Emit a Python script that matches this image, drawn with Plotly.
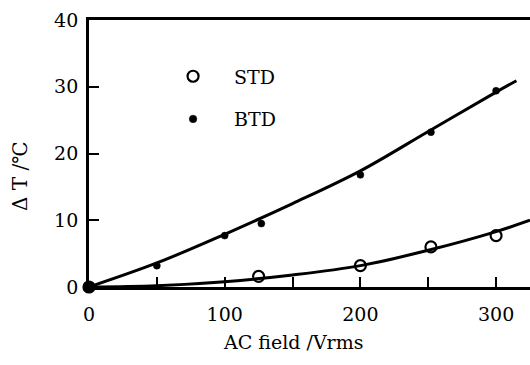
import plotly.graph_objects as go

# Measured data
std_x = [0, 125, 200, 252, 300]
std_y = [0, 1.6, 3.2, 6.0, 7.7]
btd_x = [0, 50, 100, 127, 200, 252, 300]
btd_y = [0, 3.2, 7.7, 9.5, 16.8, 23.2, 29.4]

# Fitted curves
std_fit_x = [0, 50, 100, 150, 200, 250, 300, 325]
std_fit_y = [0, 0.2, 0.8, 1.8, 3.2, 5.5, 8.3, 10.0]
btd_fit_x = [0, 50, 100, 150, 200, 250, 300, 315]
btd_fit_y = [0, 3.6, 7.9, 12.5, 17.4, 23.3, 29.2, 30.9]

x_tickvals = [0, 50, 100, 150, 200, 250, 300]
x_ticktext = ["0", "", "100", "", "200", "", "300"]
y_tickvals = [0, 10, 20, 30, 40]

FONT = "DejaVu Serif"

# marker styling (origin point drawn as a large solid dot, as in the original)
btd_sizes = [11, 7, 7, 7, 7, 7, 7]

fig = go.Figure()
fig.add_trace(go.Scatter(x=std_fit_x, y=std_fit_y, mode="lines",
                         line=dict(color="black", width=3, shape="spline"),
                         showlegend=False, hoverinfo="skip", cliponaxis=False))
fig.add_trace(go.Scatter(x=btd_fit_x, y=btd_fit_y, mode="lines",
                         line=dict(color="black", width=3, shape="spline"),
                         showlegend=False, hoverinfo="skip", cliponaxis=False))
fig.add_trace(go.Scatter(x=std_x, y=std_y, mode="markers", name="STD",
                         marker=dict(symbol="circle-open", size=11, color="#000",
                                     opacity=1, line=dict(width=2.2, color="#000")),
                         legendgroup="a", cliponaxis=False))
fig.add_trace(go.Scatter(x=btd_x, y=btd_y, mode="markers", name="BTD",
                         marker=dict(symbol="circle", size=btd_sizes, color="#000",
                                     opacity=1, line=dict(width=0.5, color="#000")),
                         legendgroup="b", cliponaxis=False))

W, H = 530, 365
L, R, T, B = 89, 0, 20, 78
pw, ph = W - L - R, H - T - B

fig.update_layout(
    width=W, height=H,
    margin=dict(l=L, r=R, t=T, b=B),
    paper_bgcolor="white", plot_bgcolor="white",
    font=dict(family=FONT, size=19, color="black"),
    legend=dict(x=0.143, y=0.86, xanchor="left", yanchor="top",
                bgcolor="rgba(0,0,0,0)", tracegroupgap=15, itemwidth=72,
                itemsizing="trace", font=dict(size=19)),
    xaxis=dict(range=[0, 325], showline=True, linecolor="black", linewidth=2.8,
               mirror=True, ticks="inside", ticklen=10, tickwidth=2.2,
               tickcolor="black", tickvals=x_tickvals, ticktext=x_ticktext,
               showgrid=False, zeroline=False, tickfont=dict(size=19),
               ticklabelstandoff=8),
    yaxis=dict(range=[0, 40], showline=True, linecolor="black", linewidth=2.8,
               ticks="inside", ticklen=10, tickwidth=2.2, tickcolor="black",
               tickvals=y_tickvals, showgrid=False, zeroline=False,
               tickfont=dict(size=19), ticklabelstandoff=4),
    showlegend=True,
)


def px_ann(text, px, py, angle=0, size=19):
    return dict(text=text, xref="paper", yref="paper",
                x=(px - L) / pw, y=(H - B - py) / ph,
                xanchor="center", yanchor="middle", textangle=angle,
                showarrow=False, font=dict(size=size))


fig.update_layout(annotations=[
    px_ann("AC field /Vrms", 293, 342),
    px_ann("Δ T /℃", 20, 176, angle=-90, size=20),
])

fig.write_html("out.html")
